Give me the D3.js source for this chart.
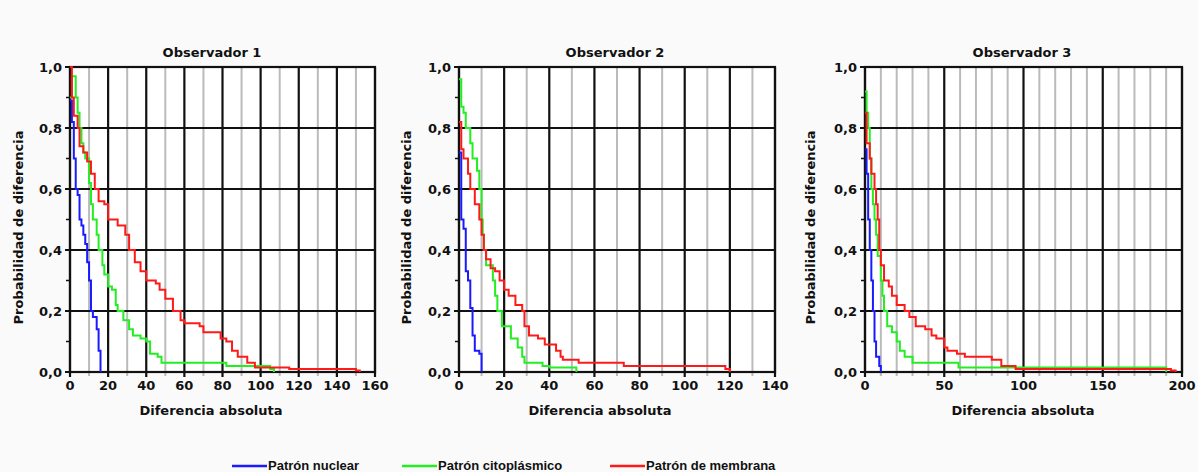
<html>
<head>
  <meta charset="utf-8" />
  <script src="https://cdnjs.cloudflare.com/ajax/libs/d3/7.8.5/d3.min.js"></script>
  <style>
    body { margin: 0; background: #fafafa; }
    text { font-family: "DejaVu Sans", Verdana, sans-serif; font-weight: bold; fill: #111; }
    .legend text { font-family: "Liberation Sans", Arial, sans-serif; }
  </style>
</head>
<body>
  <svg width="1198" height="472"></svg>
  <script>

  // ---- data ----
  var categories = ["Patrón nuclear", "Patrón citoplásmico", "Patrón de membrana"];
  var colors = ["#1a1aff", "#22ee22", "#ff1a1a"];
  var panelTitles = ["Observador 1", "Observador 2", "Observador 3"];
  var xMax = [160, 140, 200];
  var xMajorStep = [20, 20, 50];
  var xMinorStep = [10, 10, 10];
  var yTicks = [0, 0.2, 0.4, 0.6, 0.8, 1.0];
  var yMinorTicks = [0.1, 0.3, 0.5, 0.7, 0.9];

  var obs1Nuclear = [[0,0.89],[1,0.82],[2,0.7],[3,0.6],[4,0.58],[5,0.5],[6,0.48],[7,0.45],[8,0.42],[9,0.36],[10,0.3],[11,0.2],[12,0.18],[14,0.14],[15,0.07],[16,0]];
  var obs1Cito = [[0,0.9],[1,0.97],[3,0.9],[4,0.85],[5,0.8],[6,0.75],[7,0.72],[8,0.7],[10,0.62],[11,0.55],[12,0.5],[14,0.45],[15,0.4],[17,0.35],[18,0.32],[20,0.28],[22,0.27],[24,0.22],[25,0.2],[28,0.17],[31,0.14],[33,0.12],[37,0.11],[40,0.1],[42,0.06],[46,0.05],[48,0.03],[82,0.02],[105,0.01],[107,0]];
  var obs1Membrana = [[0,1.0],[1,0.9],[2,0.84],[4,0.8],[5,0.74],[7,0.72],[9,0.69],[11,0.65],[13,0.6],[15,0.56],[18,0.55],[20,0.5],[25,0.48],[29,0.45],[31,0.4],[34,0.36],[37,0.33],[40,0.3],[45,0.29],[47,0.27],[50,0.24],[54,0.2],[58,0.17],[60,0.16],[68,0.15],[70,0.13],[79,0.11],[82,0.1],[85,0.07],[88,0.05],[93,0.03],[97,0.015],[115,0.01],[150,0.005],[152,0]];

  var obs2Nuclear = [[0,0.72],[1,0.5],[2,0.47],[3,0.33],[4,0.3],[5,0.21],[6,0.12],[7,0.07],[9,0.06],[10,0]];
  var obs2Cito = [[0,0.96],[1,0.87],[2,0.85],[3,0.8],[5,0.75],[6,0.7],[8,0.66],[9,0.6],[10,0.5],[10.5,0.45],[11,0.4],[12,0.35],[15,0.3],[16,0.25],[17,0.2],[19,0.15],[23,0.11],[26,0.08],[28,0.05],[29,0.03],[37,0.02],[40,0.015],[52,0]];
  var obs2Membrana = [[0,0.82],[1,0.73],[2,0.7],[4,0.65],[5,0.6],[7,0.55],[9,0.5],[10,0.45],[11,0.4],[12,0.37],[14,0.34],[16,0.33],[18,0.3],[20,0.27],[22,0.25],[25,0.22],[28,0.2],[29,0.15],[31,0.12],[35,0.11],[38,0.09],[43,0.07],[45,0.05],[46,0.04],[53,0.03],[73,0.02],[118,0.01],[120,0]];

  var obs3Nuclear = [[0,0.73],[1,0.65],[2,0.5],[3,0.4],[4,0.3],[5,0.2],[6,0.1],[7,0.05],[9,0.02],[10,0]];
  var obs3Cito = [[0,0.92],[1,0.85],[2,0.8],[3,0.7],[4,0.6],[5,0.55],[6,0.5],[7,0.45],[8,0.38],[10,0.3],[11,0.25],[12,0.2],[14,0.15],[17,0.13],[20,0.1],[22,0.07],[25,0.05],[30,0.03],[59,0.015],[190,0]];
  var obs3Membrana = [[0,0.85],[1,0.75],[3,0.7],[4,0.65],[6,0.6],[7,0.55],[8,0.5],[9,0.4],[10,0.35],[12,0.3],[15,0.28],[17,0.25],[20,0.22],[25,0.2],[28,0.18],[32,0.15],[38,0.14],[42,0.12],[45,0.11],[50,0.08],[52,0.07],[58,0.06],[63,0.05],[80,0.04],[86,0.02],[95,0.01],[193,0.005],[196,0]];

  var panelSeries = [
    [obs1Nuclear, obs1Cito, obs1Membrana],
    [obs2Nuclear, obs2Cito, obs2Membrana],
    [obs3Nuclear, obs3Cito, obs3Membrana]
  ];

  // ---- layout ----
  var plotTop = 67, plotBottom = 372;
  var plotLeft = [70, 459, 865];
  var plotRight = [375, 775, 1182];
  var titleX = [212, 615, 1022];
  var xLabelX = [211, 600, 1023];
  var yLabelX = [23, 411, 815];

  var svg = d3.select("svg");
  var fmt = function(v) { return d3.format(".1f")(v).replace(".", ","); };

  panelTitles.forEach(function(title, p) {
    var x = d3.scaleLinear().domain([0, xMax[p]]).range([plotLeft[p], plotRight[p]]);
    var y = d3.scaleLinear().domain([0, 1]).range([plotBottom, plotTop]);
    var g = svg.append("g");

    g.append("rect")
      .attr("x", plotLeft[p]).attr("y", plotTop)
      .attr("width", plotRight[p] - plotLeft[p]).attr("height", plotBottom - plotTop)
      .attr("fill", "#fff");

    var minor = d3.range(xMinorStep[p], xMax[p], xMinorStep[p]).filter(function(v) { return v % xMajorStep[p] != 0; });
    var major = d3.range(0, xMax[p] + 1, xMajorStep[p]);

    // minor vertical grid
    g.selectAll(".minor").data(minor).enter().append("line")
      .attr("x1", d => x(d)).attr("x2", d => x(d))
      .attr("y1", plotTop).attr("y2", plotBottom + 4)
      .attr("stroke", "#bbb").attr("stroke-width", 2);

    // major vertical grid
    g.selectAll(".majorx").data(major).enter().append("line")
      .attr("x1", d => x(d)).attr("x2", d => x(d))
      .attr("y1", plotTop).attr("y2", plotBottom + 5)
      .attr("stroke", "#111").attr("stroke-width", 2.2);

    // horizontal grid
    g.selectAll(".majory").data(yTicks).enter().append("line")
      .attr("x1", plotLeft[p] - 5).attr("x2", plotRight[p])
      .attr("y1", d => y(d)).attr("y2", d => y(d))
      .attr("stroke", "#111").attr("stroke-width", 2.2);

    g.selectAll(".minory").data(yMinorTicks).enter().append("line")
      .attr("x1", plotLeft[p] - 4).attr("x2", plotLeft[p])
      .attr("y1", d => y(d)).attr("y2", d => y(d))
      .attr("stroke", "#111").attr("stroke-width", 1.5);

    // frame
    g.append("rect")
      .attr("x", plotLeft[p]).attr("y", plotTop)
      .attr("width", plotRight[p] - plotLeft[p]).attr("height", plotBottom - plotTop)
      .attr("fill", "none").attr("stroke", "#111").attr("stroke-width", 2.2);

    // tick labels
    g.selectAll(".ylab").data(yTicks).enter().append("text")
      .attr("x", plotLeft[p] - 8).attr("y", d => y(d) + 5)
      .attr("text-anchor", "end").attr("font-size", 13)
      .text(fmt);

    g.selectAll(".xlab").data(major).enter().append("text")
      .attr("x", d => x(d)).attr("y", plotBottom + 18)
      .attr("text-anchor", "middle").attr("font-size", 13)
      .text(d => d);

    // series
    var line = d3.line().x(d => x(d[0])).y(d => y(d[1])).curve(d3.curveStepAfter);
    panelSeries[p].forEach(function(s, i) {
      g.append("path")
        .attr("d", line(s))
        .attr("fill", "none")
        .attr("stroke", colors[i])
        .attr("stroke-width", 2);
    });

    g.append("text").attr("x", titleX[p]).attr("y", 57)
      .attr("text-anchor", "middle").attr("font-size", 13).text(title);
    g.append("text").attr("x", xLabelX[p]).attr("y", 415)
      .attr("text-anchor", "middle").attr("font-size", 13).text("Diferencia absoluta");
    g.append("text")
      .attr("transform", "translate(" + yLabelX[p] + "," + ((plotTop + plotBottom) / 2 + 8) + ") rotate(-90)")
      .attr("text-anchor", "middle").attr("font-size", 13).text("Probabilidad de diferencia");
  });

  // legend
  var legendX = [232, 402, 610];
  var legend = svg.append("g").attr("class", "legend");
  categories.forEach(function(c, i) {
    legend.append("line")
      .attr("x1", legendX[i]).attr("x2", legendX[i] + 35)
      .attr("y1", 466).attr("y2", 466)
      .attr("stroke", colors[i]).attr("stroke-width", 2.5);
    legend.append("text")
      .attr("x", legendX[i] + 36).attr("y", 470)
      .attr("font-size", 13).text(c);
  });

  </script>
</body>
</html>
